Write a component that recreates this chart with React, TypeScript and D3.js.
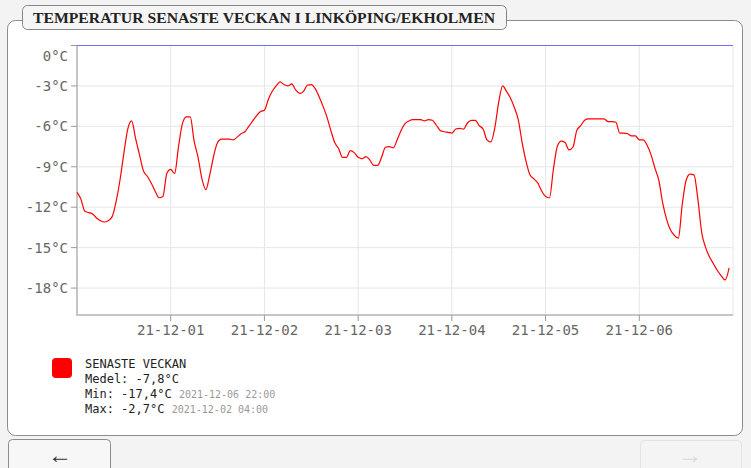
import React from 'react';
import * as d3 from 'd3';

// hourly readings from 2021-11-30 00:00
const startTime = new Date(2021, 10, 30, 0, 0);
const temps: number[] = [
  -10.9, -11.4, -12.3, -12.4, -12.5, -12.8, -13.0, -13.1, -13.0, -12.7, -11.6, -10.0,
  -8.0, -6.2, -5.6, -6.9, -8.1, -9.3, -9.7, -10.2, -10.8, -11.3, -11.2, -9.5,
  -9.2, -9.5, -7.5, -5.8, -5.3, -5.3, -7.1, -8.3, -9.9, -10.7, -9.6, -8.2,
  -7.2, -6.95, -6.95, -6.95, -7.0, -6.8, -6.55, -6.4, -6.0, -5.6, -5.2, -4.9,
  -4.8, -4.0, -3.4, -3.0, -2.7, -2.9, -3.0, -2.85, -3.3, -3.55, -3.4, -2.95,
  -2.9, -3.2, -3.8, -4.5, -5.3, -6.3, -7.2, -7.65, -8.3, -8.3, -7.8, -7.95,
  -8.3, -8.4, -8.25, -8.5, -8.9, -8.9, -8.3, -7.55, -7.5, -7.6, -7.0, -6.3,
  -5.8, -5.6, -5.5, -5.5, -5.5, -5.6, -5.5, -5.55, -5.9, -6.3, -6.4, -6.45,
  -6.5, -6.2, -6.15, -6.2, -5.75, -5.55, -5.55, -5.95, -6.2, -7.0, -7.15, -6.1,
  -4.2, -3.0, -3.4, -3.9, -4.6, -5.5, -7.2, -8.6, -9.6, -9.9, -10.2, -10.8,
  -11.2, -11.3, -9.2, -7.5, -7.1, -7.2, -7.75, -7.55, -6.3, -5.95, -5.55, -5.45,
  -5.45, -5.45, -5.45, -5.45, -5.65, -5.65, -5.7, -6.5, -6.5, -6.55, -6.7, -6.7,
  -7.0, -7.0, -7.4, -8.1, -9.1, -10.0, -11.7, -12.9, -13.7, -14.1, -14.3, -11.8,
  -10.0, -9.55, -9.6, -11.4, -13.9, -15.0, -15.7, -16.2, -16.7, -17.1, -17.4, -16.5,
];
const yTicks = [0, -3, -6, -9, -12, -15, -18];
const dayTicks = [1, 2, 3, 4, 5, 6].map((d) => new Date(2021, 11, d));
const legendName = 'SENASTE VECKAN';
const meanText = 'Medel: -7,8°C';
const minText = 'Min: -17,4°C';
const minWhen = '2021-12-06 22:00';
const maxText = 'Max: -2,7°C';
const maxWhen = '2021-12-02 04:00';

const mono = '"DejaVu Sans Mono", monospace';

export default function App() {
  const x = d3
    .scaleTime()
    .domain([startTime, new Date(2021, 11, 7)])
    .range([77, 733]);
  const y = d3.scaleLinear().domain([-20, 0]).range([315, 45.5]);

  const points = temps.map((t, i) => ({ date: d3.timeHour.offset(startTime, i), t }));
  const line = d3
    .line<{ date: Date; t: number }>()
    .x((d) => x(d.date))
    .y((d) => y(d.t))
    .curve(d3.curveMonotoneX);
  const fmt = d3.timeFormat('%y-%m-%d');
  const [x0, x1] = x.range();

  return (
    <svg
      width={751}
      height={468}
      style={{ position: 'absolute', left: 0, top: 0 }}
    >
      <rect x={0} y={0} width={751} height={468} fill="#f3f3f3" />

      {/* panel */}
      <rect x={7.5} y={20.5} width={735} height={415} rx={8} fill="#fff" stroke="#8c8c8c" />
      <rect x={22.5} y={5.5} width={484} height={24} rx={5} fill="#f5f5f5" stroke="#858585" />
      <text
        x={33}
        y={22.5}
        fontFamily='"Liberation Serif", serif'
        fontWeight="bold"
        fontSize={15}
        fill="#222"
        textLength={462}
        lengthAdjust="spacingAndGlyphs"
      >
        TEMPERATUR SENASTE VECKAN I LINKÖPING/EKHOLMEN
      </text>

      {/* grid */}
      {yTicks.filter((t) => t !== 0).map((t) => (
        <line key={t} x1={x0} x2={x1} y1={y(t)} y2={y(t)} stroke="#e6e6e6" />
      ))}
      {[...dayTicks, new Date(2021, 11, 7)].map((d) => (
        <line key={+d} x1={x(d)} x2={x(d)} y1={46} y2={315} stroke="#e6e6e6" />
      ))}
      <line x1={x0} x2={x1} y1={y(0)} y2={y(0)} stroke="#7070f0" />

      {/* axes */}
      <line x1={77} x2={77} y1={46} y2={316} stroke="#c6c6c6" strokeWidth={2} />
      <line x1={76} x2={x1} y1={315} y2={315} stroke="#c6c6c6" strokeWidth={2} />
      {yTicks.map((t) => (
        <g key={t}>
          <line x1={71} x2={77} y1={y(t)} y2={y(t)} stroke="#999" />
          <text
            x={68}
            y={t === 0 ? 61 : y(t) + 5}
            textAnchor="end"
            fontFamily={mono}
            fontSize={14}
            fill="#666"
          >
            {t}°C
          </text>
        </g>
      ))}
      {dayTicks.map((d) => (
        <g key={+d}>
          <line x1={x(d)} x2={x(d)} y1={315} y2={321} stroke="#999" />
          <text x={x(d)} y={335} textAnchor="middle" fontFamily={mono} fontSize={14} fill="#666">
            {fmt(d)}
          </text>
        </g>
      ))}

      <path d={line(points) ?? ''} fill="none" stroke="#ff0000" strokeWidth={1.2} />

      {/* legend */}
      <rect x={52} y={358} width={20} height={20} rx={4} fill="#ff0000" />
      <g fontFamily={mono} fontSize={12} fill="#222">
        <text x={85} y={368}>{legendName}</text>
        <text x={85} y={383}>{meanText}</text>
        <text x={85} y={398}>
          {minText} <tspan fontSize={10} fill="#999">{minWhen}</tspan>
        </text>
        <text x={85} y={413}>
          {maxText} <tspan fontSize={10} fill="#999">{maxWhen}</tspan>
        </text>
      </g>

      {/* navigation buttons */}
      <rect x={8.5} y={439.5} width={102} height={40} rx={4} fill="#f7f7f7" stroke="#8c8c8c" />
      <text x={60} y={463} textAnchor="middle" fontFamily='"Liberation Sans", sans-serif' fontSize={24} fill="#333">
        ←
      </text>
      <rect x={640.5} y={440.5} width={101} height={40} rx={4} fill="#f4f4f4" stroke="#e3e3e3" />
      <text x={690} y={463} textAnchor="middle" fontFamily='"Liberation Sans", sans-serif' fontSize={24} fill="#d8d8d8">
        →
      </text>
    </svg>
  );
}
